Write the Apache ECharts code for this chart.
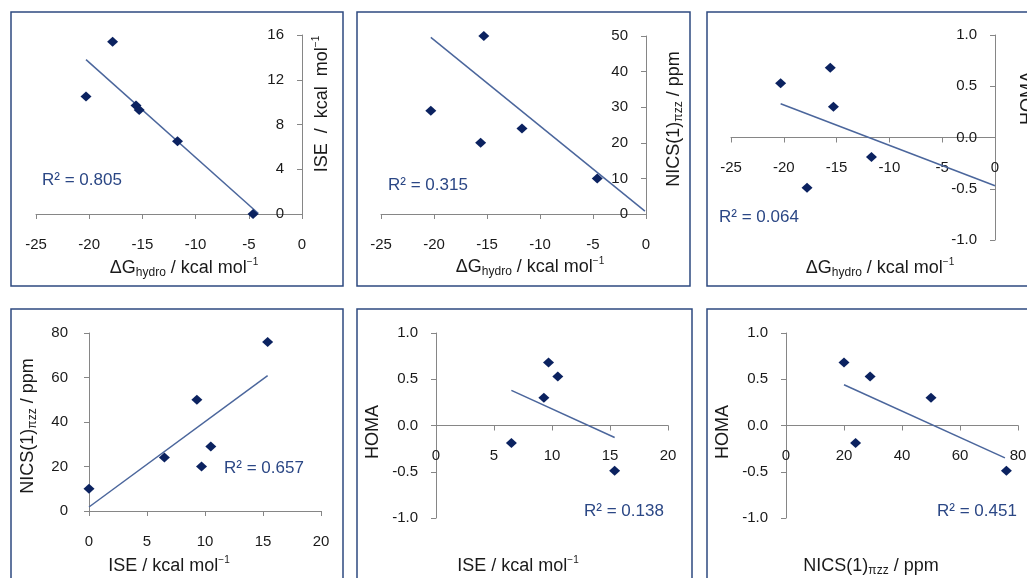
<!DOCTYPE html>
<html><head><meta charset="utf-8">
<script src="https://cdn.jsdelivr.net/npm/echarts@6/dist/echarts.min.js"></script>
<style>html,body{margin:0;padding:0;background:#fff;overflow:hidden}#c{width:1027px;height:578px}</style>
</head><body><div id="c"></div>
<script>
// ---- data ----
const dG   = [-20.3, -17.8, -15.6, -15.3, -11.7, -4.6];   // ΔG_hydro / kcal mol-1
const ISE  = [10.5, 15.4, 9.7, 9.3, 6.5, 0];              // ISE / kcal mol-1
const NICS = [29, 76, 20, 50, 24, 10];                    // NICS(1)πzz / ppm
const HOMA = [0.53, -0.49, 0.68, 0.30, -0.19, null];      // HOMA
const r2Labels = ['R² = 0.805', 'R² = 0.315', 'R² = 0.064', 'R² = 0.657', 'R² = 0.138', 'R² = 0.451'];
// trend line end points (x pairs, y pairs)
const trendX = [[-20.3, -4.1], [-20.3, -0.1], [-20.3, 0], [0, 15.4], [6.5, 15.4], [20, 75.5]];
const trendY = [[13.8, 0.05], [49.6, 0.8], [0.33, -0.47], [1.8, 60.8], [0.38, -0.13], [0.44, -0.35]];
// axis ranges [min, max, interval]
const xRanges = [[-25, 0, 5], [-25, 0, 5], [-25, 0, 5], [0, 20, 5], [0, 20, 5], [0, 80, 20]];
const yRanges = [[0, 16, 4], [0, 50, 10], [-1, 1, 0.5], [0, 80, 20], [-1, 1, 0.5], [-1, 1, 0.5]];
const yDecimals = [0, 0, 1, 0, 1, 1];

const pairs = (xs, ys) => xs.map((x, i) => [x, ys[i]]).filter(p => p[0] != null && p[1] != null);

const panelX = [dG, dG, dG, ISE, ISE, NICS];
const panelY = [ISE, NICS, HOMA, NICS, HOMA, HOMA];

// ---- layout ----
const FONT = 'Liberation Sans';
const grids = [
  {left: 36,  top: 35,  width: 266, height: 179},
  {left: 381, top: 36,  width: 265, height: 178},
  {left: 731, top: 35,  width: 264, height: 205},
  {left: 89,  top: 333, width: 232, height: 178},
  {left: 436, top: 333, width: 232, height: 185},
  {left: 786, top: 333, width: 232, height: 185}
];
const yRight = [true, true, true, false, false, false];
const yMargin = [18, 18, 18, 21, 18, 18];

const axisColor = '#868686';
const tickText = '#1a1a1a';

const xAxis = [], yAxis = [], series = [];
for (let i = 0; i < 6; i++) {
  const xr = xRanges[i], yr = yRanges[i];
  const g = grids[i];
  // x axis crosses the y axis at y = 0: shift it up from the grid bottom to the zero line
  const zeroFrac = (0 - yr[0]) / (yr[1] - yr[0]);
  const xOffset = -zeroFrac * g.height;
  xAxis.push({
    type: 'value', gridIndex: i, min: xr[0], max: xr[1], interval: xr[2],
    position: 'bottom', offset: xOffset,
    axisLine: {show: true, onZero: false, lineStyle: {color: axisColor, width: 1}},
    axisTick: {show: true, length: 5, lineStyle: {color: axisColor}},
    axisLabel: {show: true, margin: 23, color: tickText, fontFamily: FONT, fontSize: 15},
    splitLine: {show: false}
  });
  const dec = yDecimals[i];
  yAxis.push({
    type: 'value', gridIndex: i, min: yr[0], max: yr[1], interval: yr[2],
    position: yRight[i] ? 'right' : 'left',
    axisLine: {show: true, onZero: false, lineStyle: {color: axisColor, width: 1}},
    axisTick: {show: true, inside: yRight[i], length: 5, lineStyle: {color: axisColor}},
    axisLabel: {show: true, inside: yRight[i], margin: yMargin[i], color: tickText, fontFamily: FONT, fontSize: 15,
      formatter: v => v.toFixed(dec)},
    splitLine: {show: false}
  });
  series.push({
    type: 'line', xAxisIndex: i, yAxisIndex: i,
    data: pairs(trendX[i], trendY[i]),
    showSymbol: false, symbol: 'none', silent: true, z: 2,
    lineStyle: {color: '#4b669c', width: 1.5}
  });
  series.push({
    type: 'scatter', xAxisIndex: i, yAxisIndex: i, clip: true,
    data: pairs(panelX[i], panelY[i]),
    symbol: 'diamond', symbolSize: [11, 10], z: 3,
    itemStyle: {color: '#0b2260', opacity: 1}
  });
}

// ---- texts ----
const rich = {
  b: {fontSize: 18, fontFamily: FONT, fill: tickText, lineHeight: 21},
  s: {fontSize: 12, fontFamily: FONT, fill: tickText, lineHeight: 12, verticalAlign: 'bottom'},
  p: {fontSize: 10, fontFamily: FONT, fill: tickText, lineHeight: 16, verticalAlign: 'top'}
};
const tDG   = '{b|ΔG}{s|hydro}{b| / kcal mol}{p|−1}';
const tISE  = '{b|ISE / kcal mol}{p|−1}';
const tISEy = '{b|ISE  /  kcal  mol}{p|−1}';
const tNICS = '{b|NICS(1)}{s|πzz}{b| / ppm}';
const tHOMA = '{b|HOMA}';

function title(x, y, rot, text) {
  return {
    type: 'text', x: x, y: y, rotation: rot, z: 10, silent: true,
    style: {text: text, rich: rich, x: 0, y: 0, fill: tickText, fontSize: 18, fontFamily: FONT,
      align: 'center', verticalAlign: 'middle', textAlign: 'center', textVerticalAlign: 'middle'}
  };
}
const R = Math.PI / 2;
const frame = (x, y, w, h) => ({type: 'rect', shape: {x: x, y: y, width: w, height: h},
  style: {fill: 'none', stroke: '#2e4a80', lineWidth: 1.5}, silent: true});
const graphic = [
  frame(11, 12, 332, 274), frame(357, 12, 333, 274), frame(707, 12, 340, 274),
  frame(11, 309, 332, 300), frame(357, 309, 335, 300), frame(707, 309, 340, 300),
  // axis titles
  title(184, 268, 0, tDG),
  title(530, 267, 0, tDG),
  title(880, 268, 0, tDG),
  title(322, 104, R, tISEy),
  title(674, 119, R, tNICS),
  title(1028, 98, R, tHOMA),
  title(169, 566, 0, tISE),
  title(28, 426, R, tNICS),
  title(518, 566, 0, tISE),
  title(373, 432, R, tHOMA),
  title(871, 566, 0, tNICS),
  title(723, 432, R, tHOMA)
];
const r2Pos = [[42, 180], [388, 185], [719, 217], [224, 468], [584, 511], [937, 511]];
r2Labels.forEach((t, i) => {
  graphic.push({
    type: 'text', x: r2Pos[i][0], y: r2Pos[i][1], z: 10, silent: true,
    style: {text: t, fill: '#2b4785', fontSize: 17, fontFamily: FONT,
      align: 'left', verticalAlign: 'middle', textAlign: 'left', textVerticalAlign: 'middle'}
  });
});

const chart = echarts.init(document.getElementById('c'), null, {renderer: 'canvas'});
chart.setOption({
  backgroundColor: '#ffffff',
  animation: false,
  grid: grids.map(g => Object.assign({containLabel: false, outerBoundsMode: 'none'}, g)),
  xAxis: xAxis,
  yAxis: yAxis,
  series: series,
  graphic: graphic
});
</script></body></html>
